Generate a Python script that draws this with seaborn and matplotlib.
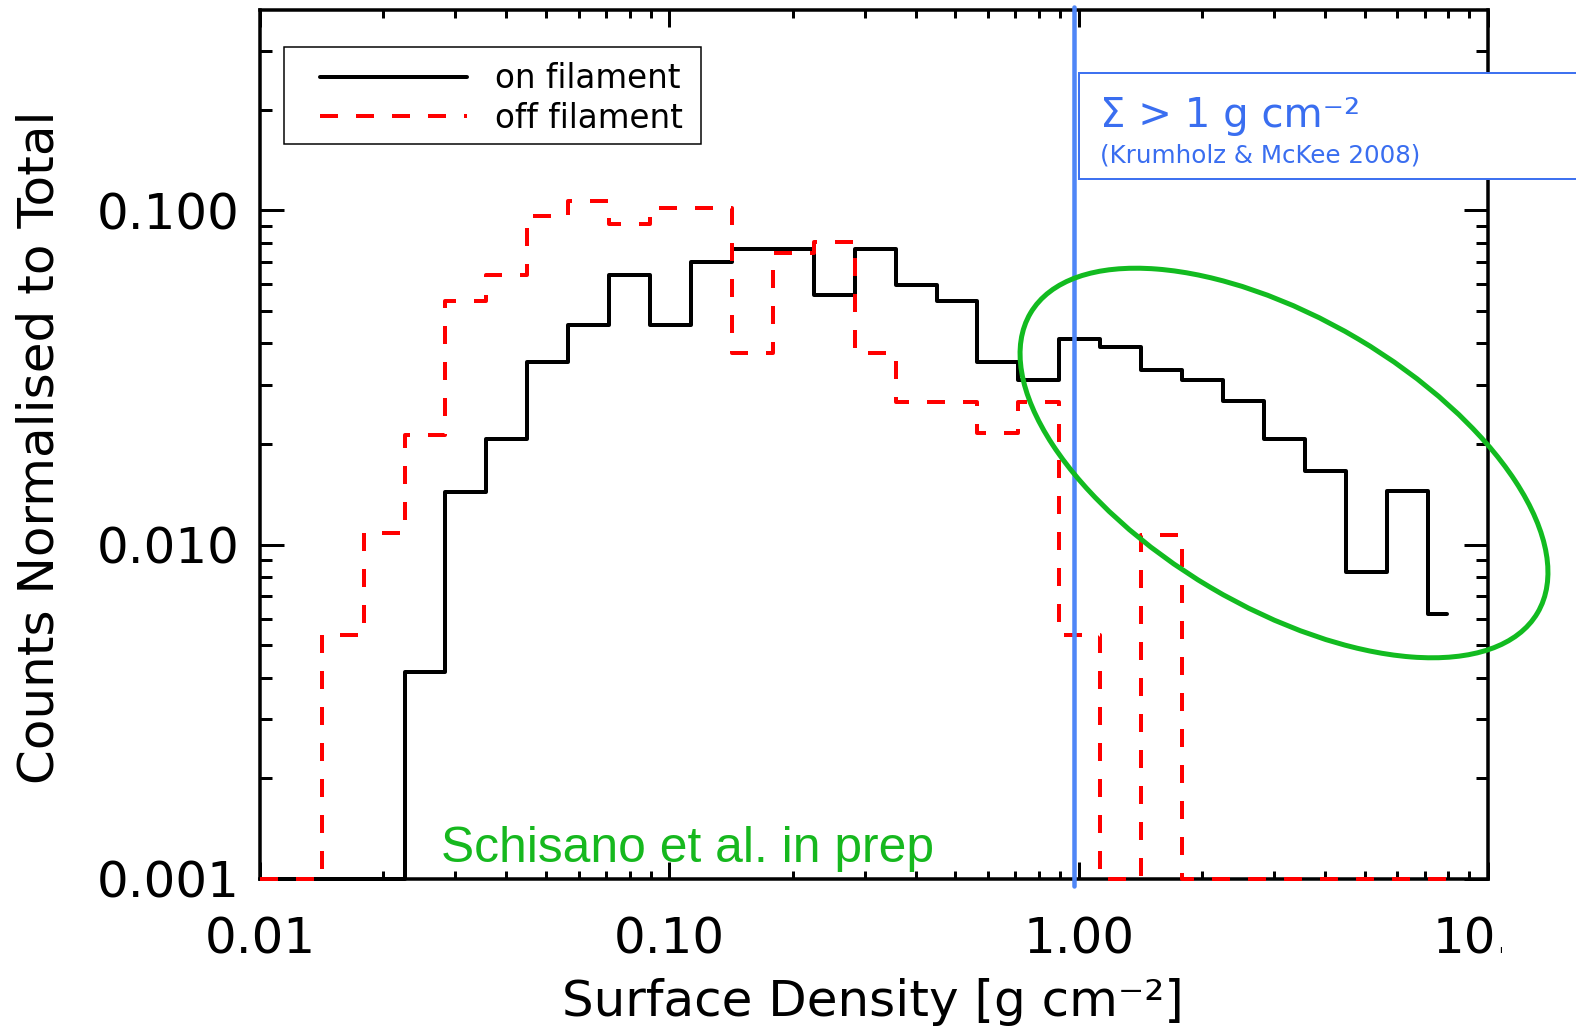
import numpy as np
import pandas as pd
import matplotlib
matplotlib.use("Agg")
import matplotlib.pyplot as plt
import seaborn as sns
from matplotlib.patches import Ellipse, Rectangle
from matplotlib.transforms import IdentityTransform
from matplotlib.ticker import LogLocator, NullFormatter, FixedLocator, FixedFormatter

# ---------------- data ----------------
surface_density = [0.0100, 0.0126, 0.0158, 0.0200, 0.0251, 0.0316, 0.0398, 0.0501, 0.0631, 0.0794,
                   0.100, 0.126, 0.158, 0.200, 0.251, 0.316, 0.398, 0.501, 0.631, 0.794,
                   1.00, 1.26, 1.58, 2.00, 2.51, 3.16, 3.98, 5.01, 6.31, 7.94]
on_filament = [0.0, 0.0, 0.0, 0.0, 0.00415, 0.0144, 0.0207, 0.0352, 0.0455, 0.0640,
               0.0455, 0.0699, 0.0764, 0.0764, 0.0558, 0.0764, 0.0598, 0.0537, 0.0352, 0.0311,
               0.0412, 0.0391, 0.0332, 0.0311, 0.0269, 0.0207, 0.0166, 0.0083, 0.0145, 0.0062]
off_filament = [0.0, 0.0, 0.00538, 0.0108, 0.0213, 0.0536, 0.0641, 0.0964, 0.1068, 0.0910,
                0.1014, 0.1014, 0.0375, 0.0747, 0.0802, 0.0375, 0.0267, 0.0267, 0.0215, 0.0267,
                0.00538, 0.0, 0.0107, 0.0, 0.0, 0.0, 0.0, 0.0, 0.0, 0.0]
series_labels = ["on filament", "off filament"]
x_ticks = [0.01, 0.1, 1.0, 10.0]
x_tick_labels = ["0.01", "0.10", "1.00", "10.0"]
y_ticks = [0.001, 0.01, 0.1]
y_tick_labels = ["0.001", "0.010", "0.100"]
threshold = 0.972
x_label = "Surface Density [g cm\u207b\u00b2]"
y_label = "Counts Normalised to Total"
note_main = "\u03a3 > 1 g cm\u207b\u00b2"
note_sub = "(Krumholz & McKee 2008)"
credit = "Schisano et al. in prep"

# ---------------- style ----------------
W, H, DPI = 1576, 1029, 100
def px(v):
    return v * 72.0 / DPI

sns.set_style("ticks")
plt.rcParams['font.family'] = ['DejaVu Sans']
plt.rcParams['mathtext.fontset'] = 'dejavusans'
for key in ["text.color", "axes.labelcolor", "xtick.color", "ytick.color", "axes.edgecolor"]:
    plt.rcParams[key] = "black"

YMIN, YMAX = 0.001, 0.397
XMIN, XMAX = 0.01, 10.0

fig = plt.figure(figsize=(W / DPI, H / DPI), dpi=DPI)
fig.patch.set_facecolor("white")
ax = fig.add_axes([260 / W, 1 - 879 / H, (1488 - 260) / W, (879 - 10) / H])
ax.set_xscale("log")
ax.set_yscale("log")

df = pd.DataFrame({
    "density": surface_density * 2,
    "fraction": np.clip(np.array(on_filament + off_filament), YMIN, None),
    "series": [series_labels[0]] * len(on_filament) + [series_labels[1]] * len(off_filament),
})

sns.lineplot(data=df[df["series"] == series_labels[0]], x="density", y="fraction", ax=ax,
             color="black", lw=px(4), drawstyle="steps-mid", errorbar=None,
             label=series_labels[0], clip_on=False, zorder=3)
sns.lineplot(data=df[df["series"] == series_labels[1]], x="density", y="fraction", ax=ax,
             color="#ff0000", lw=px(4), linestyle=(0, (4.5, 4.5)), drawstyle="steps-mid",
             errorbar=None, label=series_labels[1], clip_on=False, zorder=3.1)

ax.axvline(threshold, ymin=-0.008, ymax=1.004, color="#4f86f7", lw=px(4.5), zorder=4, clip_on=False)

ax.set_xlim(XMIN, XMAX)
ax.set_ylim(YMIN, YMAX)

ax.xaxis.set_major_locator(FixedLocator(x_ticks))
ax.xaxis.set_major_formatter(FixedFormatter(x_tick_labels))
ax.xaxis.set_minor_locator(LogLocator(base=10, subs=range(2, 10), numticks=20))
ax.xaxis.set_minor_formatter(NullFormatter())
ax.yaxis.set_major_locator(FixedLocator(y_ticks))
ax.yaxis.set_major_formatter(FixedFormatter(y_tick_labels))
ax.yaxis.set_minor_locator(LogLocator(base=10, subs=range(2, 10), numticks=20))
ax.yaxis.set_minor_formatter(NullFormatter())

for s in ax.spines.values():
    s.set_linewidth(px(3.5))
    s.set_color("black")
    s.set_visible(True)

ax.tick_params(which="both", direction="in", top=True, right=True, color="black",
               labelcolor="black", width=px(3))
ax.tick_params(axis="x", which="major", length=px(17), labelsize=36, pad=26)
ax.tick_params(axis="x", which="minor", length=px(8))
ax.tick_params(axis="y", which="major", length=px(24), labelsize=36, pad=15)
ax.tick_params(axis="y", which="minor", length=px(12))

ax.set_xlabel(x_label, fontsize=36, va="baseline", color="black")
ax.xaxis.set_label_coords((873 - 260) / 1228, (879 - 1016) / 869)
ax.set_ylabel(y_label, fontsize=36, va="center", color="black")
ax.yaxis.set_label_coords((40 - 260) / 1228, (879 - 447) / 869)

# legend (manual frame)
handles, labels = ax.get_legend_handles_labels()
leg = ax.legend(handles, labels, loc="upper left", bbox_to_anchor=(320, H - 62),
                bbox_transform=IdentityTransform(), frameon=False, borderpad=0,
                borderaxespad=0, fontsize=23.5, handlelength=4.5, handletextpad=0.85,
                labelspacing=0.2)
for t in leg.get_texts():
    t.set_color("black")
fig.patches.append(Rectangle((284, H - 144), 417, 97, transform=IdentityTransform(),
                             facecolor="none", edgecolor="black", lw=px(1.5), zorder=5))

# crop strip on the right (original chart was clipped here)
fig.patches.append(Rectangle((1502, 0), 100, H, transform=IdentityTransform(),
                             facecolor="white", edgecolor="none", zorder=5))

# annotation box
fig.patches.append(Rectangle((1079, H - 179), 520, 106, transform=IdentityTransform(),
                             facecolor="white", edgecolor="#3f72f0", lw=px(2), zorder=6))
fig.text(1100, H - 127, note_main, transform=IdentityTransform(), fontsize=29,
         color="#3a6ef0", va="baseline", ha="left", zorder=7)
fig.text(1100, H - 162, note_sub, transform=IdentityTransform(), fontsize=17.7,
         color="#3a6ef0", va="baseline", ha="left", zorder=7)

# green ellipse
fig.patches.append(Ellipse((1284, H - 463), 589, 289, angle=-30.6, transform=IdentityTransform(),
                           facecolor="none", edgecolor="#12bb20", lw=px(5), zorder=8))

fig.text(441, H - 862, credit, transform=IdentityTransform(), fontsize=35.8,
         family=["Liberation Sans", "DejaVu Sans"], color="#16b81e",
         va="baseline", ha="left", zorder=7)

fig.savefig("out.png", dpi=DPI, facecolor="white")
